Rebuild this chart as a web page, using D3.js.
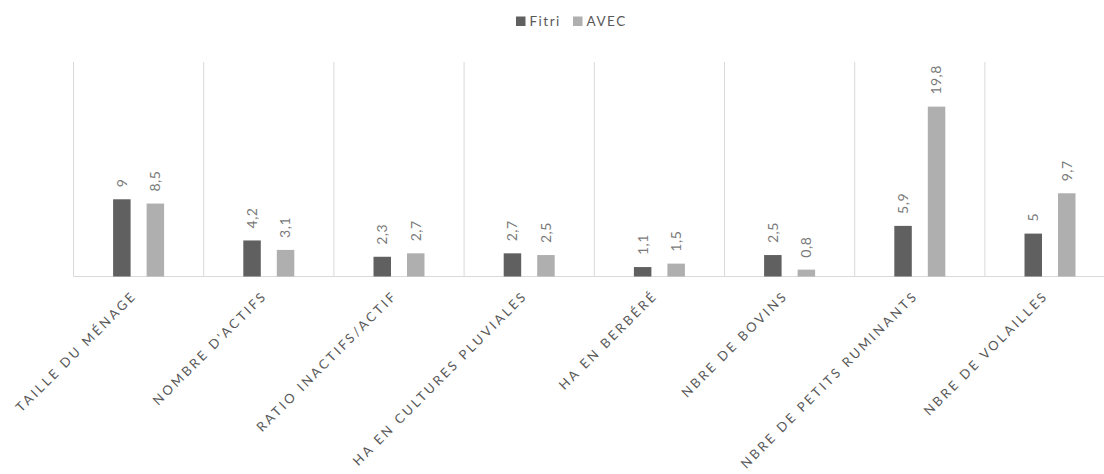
<!DOCTYPE html>
<html>
<head>
<meta charset="utf-8">
<script src="https://cdn.jsdelivr.net/npm/d3@7"></script>
<style>
  html, body { margin: 0; padding: 0; background: #fff; }
  svg { display: block; font-family: Lato, "Open Sans", sans-serif; }
</style>
</head>
<body>
<svg id="chart" width="1104" height="474"></svg>
<script>
// Household and livestock indicators, Fitri vs AVEC
const categories = [
  "TAILLE DU MÉNAGE",
  "NOMBRE D'ACTIFS",
  "RATIO INACTIFS/ACTIF",
  "HA EN CULTURES PLUVIALES",
  "HA EN BERBÉRÉ",
  "NBRE DE BOVINS",
  "NBRE DE PETITS RUMINANTS",
  "NBRE DE VOLAILLES"
];
const seriesNames = ["Fitri", "AVEC"];
const fitriValues = [9, 4.2, 2.3, 2.7, 1.1, 2.5, 5.9, 5];
const avecValues = [8.5, 3.1, 2.7, 2.5, 1.5, 0.8, 19.8, 9.7];
const seriesColors = ["#606060", "#afafaf"];

const svg = d3.select("#chart");

const plotLeft = 73.5, bandStep = 130.2;
const plotTop = 62, plotBottom = 276.5;

const x = d3.scaleBand()
  .domain(categories)
  .range([plotLeft, plotLeft + bandStep * categories.length])
  .padding(0);

const xInner = d3.scaleBand()
  .domain(seriesNames)
  .range([0, x.bandwidth()])
  .paddingInner(0.478)
  .paddingOuter(1.182);

const y = d3.scaleLinear().domain([0, 25]).range([plotBottom, plotTop]);

const fr = d3.formatLocale({ decimal: ",", thousands: " ", grouping: [3], currency: ["", " €"] });
const fmt = fr.format("~g");

// vertical separators between categories
const bounds = categories.map(c => x(c)).concat([x(categories[categories.length - 1]) + x.bandwidth()]);
svg.append("g")
  .selectAll("line")
  .data(bounds)
  .join("line")
  .attr("x1", d => d).attr("x2", d => d)
  .attr("y1", plotTop).attr("y2", plotBottom)
  .attr("stroke", "#d9d9d9").attr("stroke-width", 1);

// baseline
svg.append("line")
  .attr("x1", plotLeft).attr("x2", bounds[bounds.length - 1])
  .attr("y1", plotBottom).attr("y2", plotBottom)
  .attr("stroke", "#d9d9d9").attr("stroke-width", 1);

const rows = categories.map((c, i) => ({
  cat: c,
  vals: [
    { s: seriesNames[0], v: fitriValues[i], color: seriesColors[0] },
    { s: seriesNames[1], v: avecValues[i], color: seriesColors[1] }
  ]
}));

const groups = svg.append("g")
  .selectAll("g")
  .data(rows)
  .join("g")
  .attr("transform", d => `translate(${x(d.cat)},0)`);

groups.selectAll("rect")
  .data(d => d.vals)
  .join("rect")
  .attr("x", d => xInner(d.s))
  .attr("width", xInner.bandwidth())
  .attr("y", d => y(d.v))
  .attr("height", d => y(0) - y(d.v))
  .attr("fill", d => d.color);

// value labels, rotated
groups.selectAll("text")
  .data(d => d.vals)
  .join("text")
  .attr("transform", d => `translate(${xInner(d.s) + xInner.bandwidth() / 2},${y(d.v) - 12}) rotate(-90)`)
  .attr("dy", "0.35em")
  .attr("text-anchor", "start")
  .attr("font-size", 14)
  .attr("letter-spacing", "0.5px")
  .attr("fill", "#7a7a7a")
  .text(d => fmt(d.v));

// category labels at -45°
svg.append("g")
  .selectAll("text")
  .data(categories)
  .join("text")
  .attr("transform", d => `translate(${x(d) + x.bandwidth() / 2 - 1},${plotBottom + 20}) rotate(-45)`)
  .attr("text-anchor", "end")
  .attr("font-size", 13)
  .attr("letter-spacing", "2.7px")
  .attr("fill", "#595959")
  .text(d => d);

// legend
const legend = svg.append("g").attr("transform", "translate(516,16.5)");
const legendX = [0, 57];
seriesNames.forEach((s, i) => {
  const g = legend.append("g").attr("transform", `translate(${legendX[i]},0)`);
  g.append("rect").attr("width", 9.5).attr("height", 9.5).attr("fill", seriesColors[i]);
  g.append("text").attr("x", 13.5).attr("y", 9.5).attr("font-size", 13.5)
    .attr("letter-spacing", "1.5px").attr("fill", "#595959").text(s);
});
</script>
</body>
</html>
